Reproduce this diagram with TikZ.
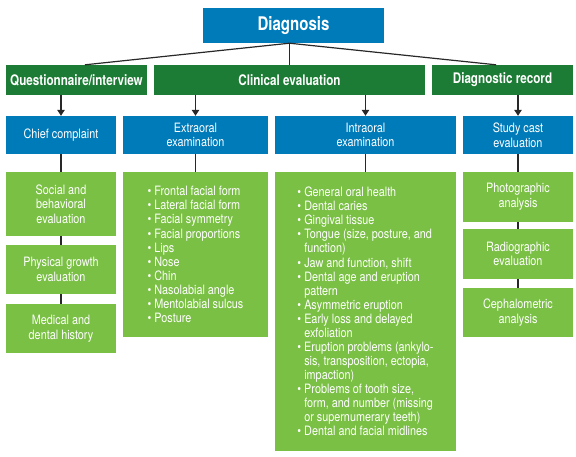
\documentclass[tikz,border=0pt]{standalone}
\usepackage{fontspec}
\usetikzlibrary{arrows.meta}
\setmainfont{TeX Gyre Heros}
\newfontfamily\regfam[FakeStretch=0.84]{TeX Gyre Heros}
\newfontfamily\boldfam[FakeStretch=0.8]{TeX Gyre Heros}
\newcommand\regtext{\regfam\fontsize{12.9}{14.7}\selectfont}
\newcommand\listtext{\regfam\fontsize{12.9}{14.06}\selectfont}
\newcommand\hdrtext{\boldfam\bfseries\fontsize{14.6}{16}\selectfont}
\newcommand\toptext{\boldfam\bfseries\fontsize{18.8}{20}\selectfont}
\newcommand\bul{\textbullet\ }
\newcommand\ind{\hphantom{\textbullet\ }}
\definecolor{dblue}{RGB}{0,123,186}
\definecolor{dgreen}{RGB}{28,123,52}
\definecolor{lgreen}{RGB}{122,192,68}
\definecolor{linegray}{RGB}{40,40,40}
\begin{document}
\begin{tikzpicture}[x=1pt,y=-1pt,
  bluebox/.style={fill=dblue, text=white, inner sep=0pt, font=\regtext, align=center},
  topbox/.style={fill=dblue, text=white, inner sep=0pt, font=\toptext},
  hdrbox/.style={fill=dgreen, text=white, inner sep=0pt, font=\hdrtext},
  lgbox/.style={fill=lgreen, text=white, inner sep=0pt, font=\regtext, align=center},
  listbox/.style={fill=lgreen, text=white, inner sep=0pt, font=\listtext, align=left},
  conn/.style={draw=linegray, line width=1.2pt},
  arr/.style={conn, -{Triangle[width=7.5pt,length=6pt]}}]
\useasboundingbox (0,0) rectangle (576,456);
% top
\node[topbox, minimum width=181pt, minimum height=35pt] (diag) at (293.5,25.5) {Diagnosis};
% headers
\node[hdrbox, minimum width=141pt, minimum height=30pt] (quest) at (76.5,80) {Questionnaire/interview};
\node[hdrbox, minimum width=271pt, minimum height=30pt] (clin) at (289.5,80) {Clinical evaluation};
\node[hdrbox, minimum width=141pt, minimum height=30pt] (drec) at (502.5,80) {Diagnostic record};
% blue row
\node[bluebox, minimum width=110pt, minimum height=38pt] (chief) at (61,135) {Chief complaint};
\node[bluebox, minimum width=145pt, minimum height=38pt] (extra) at (195.5,135) {Extraoral\\examination};
\node[bluebox, minimum width=181pt, minimum height=38pt] (intra) at (365.5,135) {Intraoral\\examination};
\node[bluebox, minimum width=110pt, minimum height=38pt] (study) at (518,135) {Study cast\\evaluation};
% left column
\node[lgbox, minimum width=110pt, minimum height=64pt] (social) at (61,204) {Social and\\behavioral\\evaluation};
\node[lgbox, minimum width=110pt, minimum height=49pt] (phys) at (61,269.5) {Physical growth\\evaluation};
\node[lgbox, minimum width=110pt, minimum height=49pt] (med) at (61,328.5) {Medical and\\dental history};
% extraoral list
\node[listbox, minimum width=145pt, minimum height=165pt] (extralist) at (195.5,254.5) {%
\bul Frontal facial form\\
\bul Lateral facial form\\
\bul Facial symmetry\\
\bul Facial proportions\\
\bul Lips\\
\bul Nose\\
\bul Chin\\
\bul Nasolabial angle\\
\bul Mentolabial sulcus\\
\bul Posture};
% intraoral list
\node[listbox, minimum width=181pt, minimum height=279pt] (intralist) at (365.5,311.5) {%
\bul General oral health\\
\bul Dental caries\\
\bul Gingival tissue\\
\bul Tongue (size, posture, and\\
\ind function)\\
\bul Jaw and function, shift\\
\bul Dental age and eruption\\
\ind pattern\\
\bul Asymmetric eruption\\
\bul Early loss and delayed\\
\ind exfoliation\\
\bul Eruption problems (ankylo-\\
\ind sis, transposition, ectopia,\\
\ind impaction)\\
\bul Problems of tooth size,\\
\ind form, and number (missing\\
\ind or supernumerary teeth)\\
\bul Dental and facial midlines};
% right column
\node[lgbox, minimum width=110pt, minimum height=50pt] (photo) at (518,197) {Photographic\\analysis};
\node[lgbox, minimum width=110pt, minimum height=50pt] (radio) at (518,254) {Radiographic\\evaluation};
\node[lgbox, minimum width=110pt, minimum height=49pt] (ceph) at (518,312.5) {Cephalometric\\analysis};
% connectors from top
\coordinate (hub) at (diag.south -| clin.north);
\draw[conn] (hub) -- (clin.north);
\draw[conn] (hub) -- ([xshift=8.5pt]quest.north);
\draw[conn] (hub) -- ([xshift=-6.5pt]drec.north);
% arrows
\draw[arr] (quest.south -| chief.north) -- (chief.north);
\draw[arr] (clin.south -| extra.north) -- (extra.north);
\draw[arr] (clin.south -| intra.north) -- (intra.north);
\draw[arr] (drec.south -| study.north) -- (study.north);
% plain lines
\draw[conn] (chief.south) -- (social.north);
\draw[conn] (social.south) -- (phys.north);
\draw[conn] (phys.south) -- (med.north);
\draw[conn] (extra.south) -- (extralist.north -| extra.south);
\draw[conn] (intra.south) -- (intralist.north -| intra.south);
\draw[conn] (study.south) -- (photo.north);
\draw[conn] (photo.south) -- (radio.north);
\draw[conn] (radio.south) -- (ceph.north);
\end{tikzpicture}
\end{document}
